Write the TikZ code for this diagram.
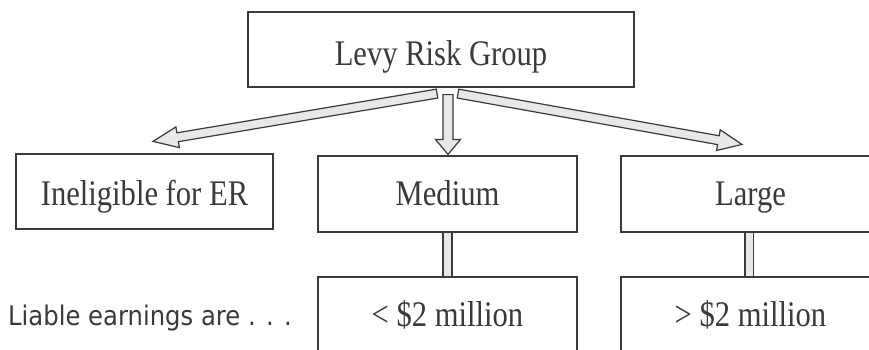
\documentclass[tikz,border=0pt]{standalone}
\usepackage{fontspec}
\usetikzlibrary{calc}
\newfontfamily\boxfont{Liberation Serif}[FakeStretch=0.85]
\newfontfamily\notefont{DejaVu Sans}[FakeStretch=0.9]
\definecolor{ink}{HTML}{3A3A3A}
\definecolor{lightfill}{HTML}{E8E8E8}
% #1 tail, #2 tip, #3 shaft half-width, #4 head half-width, #5 head length
\newcommand\myblockarrow[5]{%
  \coordinate (ba-h) at ($(#2)!#5!(#1)$);
  \filldraw[blockarrow]
    ($(#1)!#3!90:(#2)$) -- ($(ba-h)!#3!90:(#2)$) -- ($(ba-h)!#4!90:(#2)$) -- (#2)
    -- ($(ba-h)!#4!-90:(#2)$) -- ($(ba-h)!#3!-90:(#2)$) -- ($(#1)!#3!-90:(#2)$) -- cycle;}
\begin{document}
\begin{tikzpicture}[x=1pt,y=1pt,
  box/.style={draw=ink, line width=1.2pt, inner sep=0pt, text depth=0pt, text=ink,
    font=\boxfont\fontsize{36}{40}\selectfont},
  blockarrow/.style={draw=ink, fill=lightfill, line width=1.2pt, line join=miter},
  bar/.style={draw=ink, fill=lightfill, line width=1.1pt},
  note/.style={inner sep=0pt, text=ink, font=\notefont\fontsize{27}{30}\selectfont}]
\clip (0,0) rectangle (869,-349);
\fill[white] (0,0) rectangle (869,-349);

\node[box, minimum width=386pt, minimum height=75pt, text height=31pt] (top) at (441,-49.5) {Levy Risk Group};
\node[box, minimum width=257pt, minimum height=75pt, text height=27pt] (inel) at (144.5,-191.5) {Ineligible for ER};
\node[box, minimum width=259pt, minimum height=76pt, text height=22pt] (med) at (447.5,-194) {Medium};
\node[box, minimum width=259pt, minimum height=76pt, text height=22pt] (large) at (750.5,-194) {Large};
\node[box, minimum width=259pt, minimum height=83pt, text height=15pt] (medbot) at (447.5,-318.5) {< \$2 million};
\node[box, minimum width=259pt, minimum height=83pt, text height=15pt] (largebot) at (750.5,-318.5) {> \$2 million};
\node[note, anchor=base west] (liable) at (8,-325) {Liable earnings are . . .};

% arrow end points
\coordinate (lt) at ($(top.south)+(-4,-6)$);
\coordinate (lp) at ($(inel.north)+(8.5,12)$);
\coordinate (mt) at ($(top.south)+(7,-7)$);
\coordinate (mp) at ($(med.north)+(0.5,1)$);
\coordinate (rt) at ($(top.south)+(17,-6)$);
\coordinate (rp) at ($(large.north)+(-8.5,11)$);

\myblockarrow{lt}{lp}{4.5pt}{10.5pt}{25pt}
\myblockarrow{mt}{mp}{5pt}{12.5pt}{15pt}
\myblockarrow{rt}{rp}{4.5pt}{10.5pt}{24pt}

% connectors to the lower boxes
\filldraw[bar] ($(med.south)+(-4.5,0)$) rectangle ($(medbot.north)+(4.5,0)$);
\filldraw[bar] ($(large.south)+(-5.5,0)$) rectangle ($(largebot.north)+(3,0)$);
\end{tikzpicture}
\end{document}
